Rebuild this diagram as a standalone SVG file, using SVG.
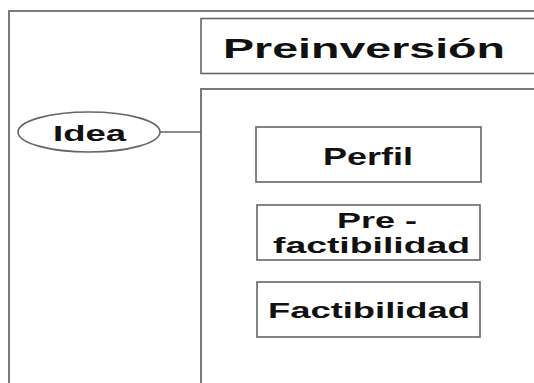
<svg xmlns="http://www.w3.org/2000/svg" width="534" height="383" viewBox="0 0 534 383">
<style>
.frame{fill:none;stroke:#7a7a7a;stroke-width:2}
.box{fill:#fff;stroke:#666;stroke-width:1.6}
.t{font-family:"Liberation Sans",Arial,sans-serif;font-weight:bold;fill:#111}
.conn{stroke:#666;stroke-width:1.5;fill:none}
</style>
<rect width="534" height="383" fill="#fff"/>
<g id="outer"><rect class="frame" x="9" y="11" width="540" height="390"/></g>
<g id="preinversion">
<rect class="box" x="201" y="18.5" width="345" height="55"/>
<text class="t" x="223" y="58" font-size="28" textLength="282" lengthAdjust="spacingAndGlyphs">Preinversión</text>
</g>
<g id="container"><rect class="frame" x="201" y="89" width="345" height="305"/></g>
<g id="connectors"><line class="conn" x1="160" y1="132" x2="201" y2="132"/></g>
<g id="idea">
<ellipse class="box" cx="89" cy="132" rx="71" ry="20"/>
<text class="t" x="53" y="141" font-size="22" textLength="73" lengthAdjust="spacingAndGlyphs">Idea</text>
</g>
<g id="perfil">
<rect class="box" x="256" y="127" width="225" height="55"/>
<text class="t" x="323" y="165" font-size="23" textLength="90" lengthAdjust="spacingAndGlyphs">Perfil</text>
</g>
<g id="prefactibilidad">
<rect class="box" x="257" y="205" width="223" height="55"/>
<text class="t" x="337" y="228" font-size="22" textLength="80" lengthAdjust="spacingAndGlyphs">Pre -</text>
<text class="t" x="273" y="253" font-size="22" textLength="197" lengthAdjust="spacingAndGlyphs">factibilidad</text>
</g>
<g id="factibilidad">
<rect class="box" x="257" y="282" width="223" height="55"/>
<text class="t" x="268" y="318" font-size="22" textLength="202" lengthAdjust="spacingAndGlyphs">Factibilidad</text>
</g>
</svg>
